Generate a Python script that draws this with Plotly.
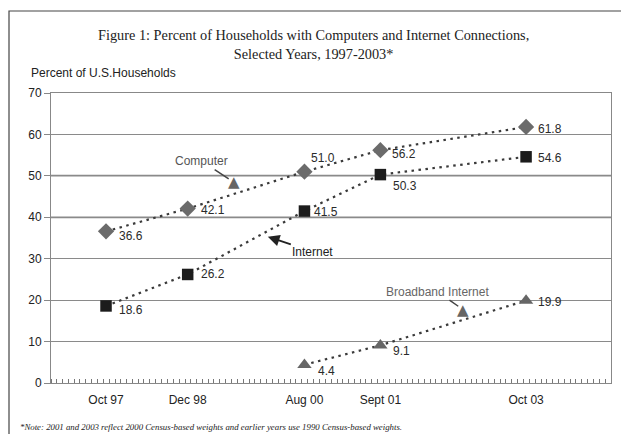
import plotly.graph_objects as go

# ---- data ----
dates = ["1997-10-15", "1998-12-15", "2000-08-15", "2001-09-15", "2003-10-15"]
tick_labels = ["Oct 97", "Dec 98", "Aug 00", "Sept 01", "Oct 03"]
computer = [36.6, 42.1, 51.0, 56.2, 61.8]
internet = [18.6, 26.2, 41.5, 50.3, 54.6]
broadband_dates = ["2000-08-15", "2001-09-15", "2003-10-15"]
broadband = [4.4, 9.1, 19.9]

# label offsets (pixels) for the value labels
comp_off = [(11, -5), (11, -1), (5, 14), (10, -4), (10, -2)]
int_off = [(11, -4), (11, 0), (8, -1), (11, -11), (10, -1)]
bb_off = [(12, -6), (11, -6), (10, -1)]

LINE = "#3a3a3a"
fig = go.Figure()

fig.add_trace(go.Scatter(
    x=dates, y=computer, mode="lines+markers", name="Computer",
    line=dict(color=LINE, width=2.2, dash="2.5px,4.5px"),
    marker=dict(symbol="diamond", size=12.5, color="#6b6b6b"),
))
fig.add_trace(go.Scatter(
    x=dates, y=internet, mode="lines+markers", name="Internet",
    line=dict(color=LINE, width=2.2, dash="2.5px,4.5px"),
    marker=dict(symbol="square", size=11.5, color="#1c1c1c"),
))
fig.add_trace(go.Scatter(
    x=broadband_dates, y=broadband, mode="lines+markers", name="Broadband Internet",
    line=dict(color=LINE, width=2.2, dash="2.5px,4.5px"),
    marker=dict(symbol="triangle-up", size=12.5, color="#666666"),
))

FONT = "Liberation Sans, Arial, sans-serif"
SERIF = "Liberation Serif, Times New Roman, serif"
anns = []

def add_labels(xs, ys, offs):
    for x, y, (dx, dy) in zip(xs, ys, offs):
        anns.append(dict(x=x, y=y, xref="x", yref="y", text=f"{y:.1f}",
                         showarrow=False, xanchor="left", yanchor="middle",
                         xshift=dx, yshift=dy,
                         font=dict(family=FONT, size=12, color="#2a2a2a")))

add_labels(dates, computer, comp_off)
add_labels(dates, internet, int_off)
add_labels(broadband_dates, broadband, bb_off)

# series name call-outs
anns.append(dict(x="1999-08-12", y=48.5, xref="x", yref="y", text="Computer",
                 showarrow=True, arrowhead=0, arrowwidth=1.5, arrowcolor="#444",
                 ax=-32, ay=-21, standoff=6,
                 font=dict(family=FONT, size=12, color="#555")))
anns.append(dict(x="1999-08-12", y=48.5, xref="x", yref="y", text="▲",
                 showarrow=False, font=dict(family="DejaVu Sans", size=15, color="#666")))
anns.append(dict(x="2002-11-21", y=17.7, xref="x", yref="y", text="Broadband Internet",
                 showarrow=True, arrowhead=0, arrowwidth=1.5, arrowcolor="#444",
                 ax=-26, ay=-18, standoff=6,
                 font=dict(family=FONT, size=12, color="#666")))
anns.append(dict(x="2002-11-21", y=17.7, xref="x", yref="y", text="▲",
                 showarrow=False, font=dict(family="DejaVu Sans", size=15, color="#666")))
anns.append(dict(x="2000-02-06", y=35.3, xref="x", yref="y", text="Internet",
                 showarrow=True, arrowhead=2, arrowsize=1.3, arrowwidth=1.8, arrowcolor="#222",
                 ax=45, ay=15,
                 font=dict(family=FONT, size=12, color="#222")))

# axis title (horizontal, top-left)
anns.append(dict(x=30, y=73, xref="paper", yref="paper", text="Percent of U.S.Households",
                 showarrow=False, xanchor="left", yanchor="middle",
                 font=dict(family=FONT, size=12, color="#222")))
# footnote
anns.append(dict(x=0, y=0, xref="paper", yref="paper",
                 text="<i>*Note: 2001 and 2003 reflect 2000 Census-based weights and earlier years use 1990 Census-based weights.</i>",
                 showarrow=False, xanchor="left", yanchor="middle",
                 font=dict(family=SERIF, size=8.8, color="#222")))

L, R, T, B = 51, 10, 93, 51
W, H = 621, 434
pw, ph = W - L - R, H - T - B

def px_to_paper(px, py):
    return (px - L) / pw, (H - B - py) / ph

# place the paper-referenced annotations by pixel
anns[-2]["x"], anns[-2]["y"] = px_to_paper(29, 73)
anns[-1]["x"], anns[-1]["y"] = px_to_paper(18, 427)

fx0, fy1 = px_to_paper(9, 11)
fx1, fy0 = px_to_paper(640, 460)

shapes = [dict(type="rect", xref="paper", yref="paper", x0=fx0, x1=fx1, y0=fy0, y1=fy1,
               line=dict(color="#444", width=1.2), layer="below")]
# lighter, heavier gridlines at 40 and 50 as in the scan
for gy in (40, 50):
    shapes.append(dict(type="line", xref="paper", yref="y", x0=0, x1=1, y0=gy, y1=gy,
                       line=dict(color="#c4c4c4", width=2.5), layer="below"))

fig.update_layout(
    width=W, height=H,
    margin=dict(l=L, r=R, t=T, b=B),
    paper_bgcolor="white", plot_bgcolor="white",
    showlegend=False,
    title=dict(text="Figure 1: Percent of Households with Computers and Internet Connections,<br>Selected Years, 1997-2003*",
               x=0.505, xanchor="center", y=1 - 40 / H, yanchor="middle",
               font=dict(family=SERIF, size=14.3, color="#222")),
    annotations=anns,
    shapes=shapes,
    xaxis=dict(type="date", range=["1997-01-01", "2004-12-31"],
               tickvals=dates, ticktext=tick_labels, ticks="",
               ticklabelstandoff=6,
               tickfont=dict(family=FONT, size=12, color="#222"),
               showgrid=False, zeroline=False,
               showline=True, linecolor="#888", linewidth=1, mirror=True,
               minor=dict(ticks="inside", dtick="M1", ticklen=4, tickcolor="#777",
                          tickwidth=1, showgrid=False)),
    yaxis=dict(range=[0, 70], dtick=10, ticks="outside", ticklen=6, tickcolor="#888",
               tickfont=dict(family=FONT, size=12, color="#222"),
               showgrid=True, gridcolor="#8a8a8a", gridwidth=1, zeroline=False,
               showline=True, linecolor="#888", linewidth=1, mirror=True),
)

fig.write_html("out.html")
